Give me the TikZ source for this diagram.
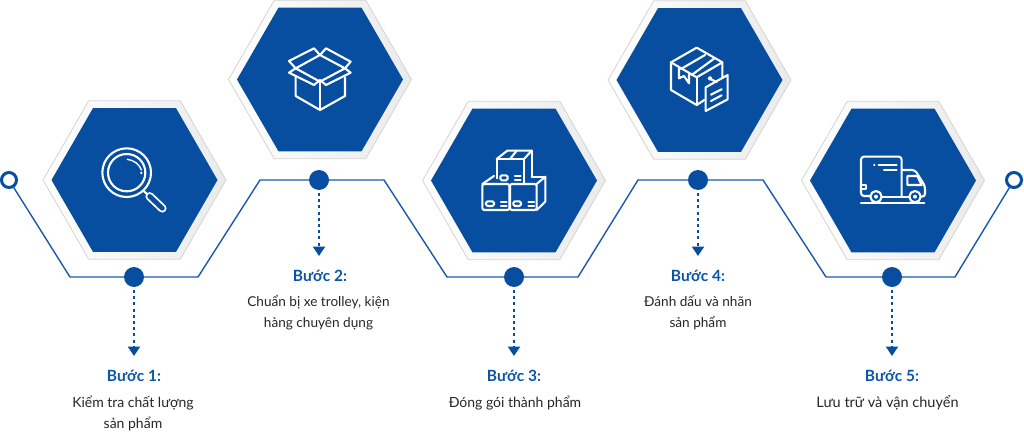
\documentclass[tikz,border=0pt]{standalone}
\usepackage{fontspec}
\setmainfont{Lato}
\usetikzlibrary{shapes.geometric,arrows.meta}
\definecolor{hexblue}{HTML}{074EA0}
\definecolor{wireblue}{HTML}{1B58AC}
\definecolor{headblue}{HTML}{0C54A6}
\definecolor{bodygrey}{HTML}{262626}
\tikzset{
  hexouter/.style={regular polygon,regular polygon sides=6,minimum size=183pt,inner sep=0pt,outer sep=0pt,draw=black!17,line width=.8pt,left color=white,right color=black!8},
  hexinner/.style={regular polygon,regular polygon sides=6,minimum size=166pt,inner sep=0pt,outer sep=0pt,fill=hexblue},
  ring/.style={circle,draw=hexblue,line width=3pt,fill=white,minimum size=15pt,inner sep=0pt,outer sep=0pt},
  dot/.style={circle,fill=hexblue,minimum size=20pt,inner sep=0pt,outer sep=0pt},
  wire/.style={draw=wireblue,line width=1.4pt,line join=miter},
  drop/.style={draw=hexblue,line width=2.4pt,dash pattern=on 3pt off 3.2pt,-{Triangle[width=12pt,length=9.5pt]}},
  stephead/.style={font=\fontsize{15.5}{18}\selectfont\bfseries,text=headblue,inner sep=0pt},
  stepbody/.style={font=\fontsize{14}{21}\selectfont,text=bodygrey,align=center,inner sep=0pt},
  icon/.style={draw=white,line width=2.1pt,line join=round,line cap=round},
  iconframe/.style={x=0.33333pt,y=-0.33333pt}
}
\begin{document}
\begin{tikzpicture}[x=1pt,y=-1pt]
\useasboundingbox (0,0) rectangle (1024,433);
% hexagons
\foreach \n/\cx/\cy in {1/134.5/180,2/320/79.5,3/514/180.5,4/699.5/80,5/893/180.5}{
  \node[hexouter] (ho\n) at (\cx,\cy) {};
  \node[hexinner] (hi\n) at (\cx,\cy) {};
}
% wire nodes
\node[ring] (rl) at (9,180) {};
\node[ring] (rr) at (1014,180) {};
\node[dot] (d1) at (134,277) {};
\node[dot] (d2) at (319,180) {};
\node[dot] (d3) at (514,277) {};
\node[dot] (d4) at (698,180) {};
\node[dot] (d5) at (892,277) {};
\coordinate (k1) at (70,277);
\coordinate (k2) at (198,277);
\coordinate (k3) at (260,180);
\coordinate (k4) at (384,180);
\coordinate (k5) at (447,277);
\coordinate (k6) at (578,277);
\coordinate (k7) at (638,180);
\coordinate (k8) at (763,180);
\coordinate (k9) at (826,277);
\coordinate (k10) at (955,277);
\draw[wire] (rl) -- (k1) -- (d1) -- (k2) -- (k3) -- (d2) -- (k4) -- (k5) -- (d3) -- (k6) -- (k7) -- (d4) -- (k8) -- (k9) -- (d5) -- (k10) -- (rr);
% arrow ends
\coordinate (e1) at (134,356);
\coordinate (e2) at (319,256);
\coordinate (e3) at (514,356);
\coordinate (e4) at (698,256);
\coordinate (e5) at (892,356);
\foreach \n in {1,...,5}{ \draw[drop] ([yshift=-3pt]d\n.south) -- (e\n); }
% labels
\node[stephead] (h1) at (134,376) {Bước 1:};
\node[stepbody] (b1) at (133,413.5) {Kiểm tra chất lượng\\sản phẩm};
\node[stephead] (h2) at (320,276) {Bước 2:};
\node[stepbody,font=\fontsize{13.6}{21}\selectfont] (b2) at (318.5,312.5) {Chuẩn bị xe trolley, kiện\\hàng chuyên dụng};
\node[stephead] (h3) at (514,376) {Bước 3:};
\node[stepbody] (b3) at (515,403) {Đóng gói thành phẩm};
\node[stephead] (h4) at (698,276) {Bước 4:};
\node[stepbody,font=\fontsize{13.6}{21}\selectfont] (b4) at (698,312.5) {Đánh dấu và nhãn\\sản phẩm};
\node[stephead] (h5) at (892,376) {Bước 5:};
\node[stepbody,font=\fontsize{14.5}{21}\selectfont] (b5) at (887.5,403) {Lưu trữ và vận chuyển};
% icon 1: magnifier
\begin{scope}[shift={(0,90)},iconframe]
  \draw[icon] (380,248) circle (73);
  \draw[icon] (380,248) circle (56);
  \draw[icon,line width=1.4pt] (382,208) .. controls (402,210) and (420,225) .. (424,240);
  \fill[white] (424,249) circle (4);
  \draw[icon] (430,302) -- (445,316);
  \draw[draw=white,line width=8.5pt,line cap=round] (449,319) -- (487,355);
  \draw[draw=hexblue,line width=4.8pt,line cap=round] (449,319) -- (487,355);
\end{scope}
% icon 2: open box
\begin{scope}[shift={(220,0)},iconframe]
  \draw[icon] (227,232) -- (227,288) -- (300,330) -- (375,288) -- (375,232);
  \draw[icon] (300,240) -- (300,330);
  \draw[icon] (300,165) -- (227,205) -- (300,245) -- (375,205) -- cycle;
  \draw[icon] (227,205) -- (207,183) -- (282,145) -- (300,165) -- (318,145) -- (392,185) -- (375,205);
  \draw[icon] (227,205) -- (207,218) -- (282,255) -- (300,240) -- (318,255) -- (392,218) -- (375,205);
\end{scope}
% icon 3: stacked boxes
\begin{scope}[shift={(420,100)},iconframe]
  \draw[icon] (230,235) -- (230,177) -- (312,177) -- (312,248);
  \draw[icon] (230,177) -- (262,152) -- (335,152) -- (312,177);
  \draw[icon] (335,152) -- (335,228);
  \draw[icon] (290,152) -- (270,177);
  \draw[icon,rounded corners=1.5pt] (241,226) rectangle (263,241);
  \draw[icon] (285,228) -- (302,228) (285,241) -- (302,241);
  \draw[icon,rounded corners=2pt] (187,252) rectangle (268,330);
  \draw[icon] (187,252) -- (222,228);
  \draw[icon,rounded corners=1.5pt] (198,304) rectangle (222,318);
  \draw[icon] (243,305) -- (260,305) (243,318) -- (260,318);
  \draw[icon,rounded corners=2pt] (270,252) rectangle (350,330);
  \draw[icon] (350,252) -- (376,230) -- (376,305) -- (350,330);
  \draw[icon] (376,230) -- (335,230);
  \draw[icon,rounded corners=1.5pt] (280,304) rectangle (303,318);
  \draw[icon] (325,305) -- (342,305) (325,318) -- (342,318);
\end{scope}
% icon 4: box with label
\begin{scope}[shift={(610,0)},iconframe]
  \draw[icon] (283,300) -- (260,315) -- (183,270) -- (183,187) -- (260,143) -- (337,187) -- (337,232);
  \draw[icon] (183,187) -- (260,232) -- (337,187);
  \draw[icon] (260,232) -- (260,315);
  \draw[icon] (213,207) -- (285,165) (245,225) -- (312,176);
  \draw[icon] (207,205) -- (207,235) -- (222,228) -- (237,250) -- (237,222);
  \draw[icon,fill=hexblue] (287,262) -- (353,225) -- (353,298) -- (287,333) -- cycle;
  \draw[icon] (303,284) -- (335,268) (303,303) -- (335,286);
  \draw[icon] (300,235) circle (4);
  \draw[icon] (303,238) -- (320,246);
\end{scope}
% icon 5: truck
\begin{scope}[shift={(800,100)},iconframe]
  \draw[icon,rounded corners=3pt] (210,288) -- (183,288) -- (183,170) -- (305,170) -- (305,290);
  \draw[icon] (183,308) -- (373,308);
  \draw[icon] (247,290) -- (327,290);
  \draw[icon] (228,290) circle (17);
  \draw[icon] (345,290) circle (17);
  \fill[white] (228,290) circle (6);
  \fill[white] (345,290) circle (6);
  \draw[icon,rounded corners=3pt] (305,210) -- (345,210) -- (375,258) -- (375,290) -- (364,290);
  \draw[icon] (322,228) -- (352,228) -- (365,255) -- (322,255) -- cycle;
  \draw[icon] (183,256) -- (197,256) -- (197,268) -- (183,268);
  \fill[white] (223,195) circle (3.5);
  \draw[icon] (236,195) -- (290,195) (252,210) -- (290,210);
\end{scope}
\end{tikzpicture}
\end{document}
